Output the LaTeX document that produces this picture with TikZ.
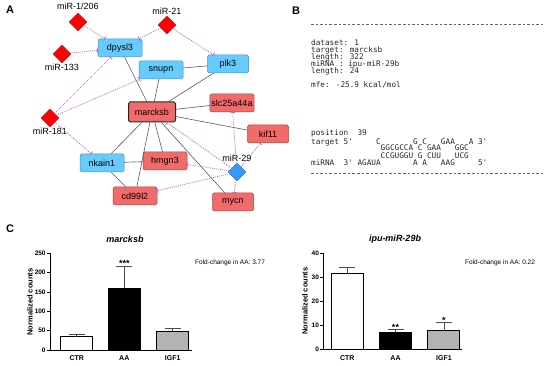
\documentclass[tikz,border=0pt]{standalone}
\usepackage{fontspec}
\setmainfont{Liberation Sans}
\newfontfamily\codefont{DejaVu Sans Mono}
\usetikzlibrary{shapes.geometric,arrows.meta}

\definecolor{geneblue}{HTML}{66CCFF}
\definecolor{genebluedark}{HTML}{4A8DB0}
\definecolor{genered}{HTML}{F26B6B}
\definecolor{generedline}{HTML}{A84444}
\definecolor{mirpurple}{HTML}{B563C9}
\definecolor{mirblue}{HTML}{3399FF}
\definecolor{bargray}{HTML}{B3B3B3}

% blank columns in the monospaced alignment
\newcommand{\colgap}[1]{\hspace*{#1\fontcharwd\font`x}}

\tikzset{
  panel/.style={font=\fontsize{11}{11}\selectfont\bfseries, inner sep=0pt},
  genebox/.style={draw=genebluedark, fill=geneblue, rounded corners=1.5pt,
    minimum width=44pt, minimum height=18pt, inner sep=1.5pt,
    line width=0.5pt, font=\fontsize{9}{9}\selectfont},
  tgtbox/.style={genebox, draw=generedline, fill=genered},
  hubbox/.style={tgtbox, draw=black!85, line width=1pt,
    minimum width=47pt, minimum height=20pt},
  mirred/.style={diamond, fill=red, draw=red!80!black, inner sep=0pt,
    minimum size=18pt, line width=0.3pt},
  mirbl/.style={mirred, fill=mirblue, draw=mirblue!70!black},
  mirlabel/.style={font=\fontsize{9}{9}\selectfont, inner sep=1pt},
  ppi/.style={draw=black!65, line width=0.6pt},
  inhib/.style={draw=mirpurple, line width=0.7pt, dash pattern=on 1pt off 1pt,
    -{Bar[width=5pt,line width=0.7pt]}},
  codeline/.style={anchor=base west, inner sep=0pt,
    font=\codefont\fontsize{7.7}{7.7}\selectfont, text=black!85},
  sepline/.style={draw=black!60, line width=0.5pt, dash pattern=on 2.5pt off 2.1pt},
  axisline/.style={draw=black, line width=0.8pt},
  barline/.style={draw=black, line width=0.9pt},
  errline/.style={draw=black!70, line width=0.8pt},
  ticklbl/.style={font=\fontsize{6.5}{6.5}\selectfont\bfseries, inner sep=1pt},
  catlbl/.style={font=\fontsize{7}{7}\selectfont\bfseries, inner sep=0pt},
  ylbl/.style={font=\fontsize{7.5}{7.5}\selectfont\bfseries, rotate=90, inner sep=0pt},
  ttl/.style={font=\fontsize{9}{9}\selectfont\bfseries\itshape, inner sep=0pt},
  foldlbl/.style={font=\fontsize{6.5}{6.5}\selectfont, anchor=west, inner sep=0pt},
  stars/.style={font=\fontsize{9}{9}\selectfont\bfseries, anchor=base, inner sep=0pt}
}

\begin{document}
\begin{tikzpicture}[x=1pt,y=-1pt]
  \useasboundingbox (0,0) rectangle (550,366);
  % panel letters
  \node[panel] (pa) at (10,10) {A};
  \node[panel] (pb) at (296,11) {B};
  \node[panel] (pc) at (10,229) {C};

  % network: genes
  \node[genebox] (dpysl3) at (120,48) {dpysl3};
  \node[genebox] (snupn) at (161,70) {snupn};
  \node[genebox, minimum width=41pt] (plk3) at (228,64) {plk3};
  \node[genebox] (nkain1) at (102,163) {nkain1};
  \node[hubbox] (marcksb) at (152,112) {marcksb};
  \node[tgtbox] (slc25a44a) at (232,103) {slc25a44a};
  \node[tgtbox, minimum width=41pt] (kif11) at (268,134) {kif11};
  \node[tgtbox] (hmgn3) at (165,161) {hmgn3};
  \node[tgtbox] (cd99l2) at (135,196) {cd99l2};
  \node[tgtbox, minimum width=41pt] (mycn) at (233,202) {mycn};
  % network: miRNAs
  \node[mirred, label={[mirlabel, label distance=2pt]above:miR-1/206}] (mir1) at (78,22) {};
  \node[mirred, label={[mirlabel]above:miR-21}] (mir21) at (167,25) {};
  \node[mirred, label={[mirlabel]below:miR-133}] (mir133) at (62,54) {};
  \node[mirred, label={[mirlabel]below:miR-181}] (mir181) at (50,118) {};
  \node[mirbl, label={[mirlabel]above:miR-29}] (mir29) at (237,172) {};

  % interactions
  \foreach \g in {dpysl3,snupn,plk3,nkain1,slc25a44a,kif11,hmgn3,cd99l2,mycn}
    \draw[ppi] (marcksb) -- (\g);
  \draw[ppi] (snupn) -- (plk3);
  \draw[ppi] (nkain1) -- (hmgn3);
  \draw[ppi] (nkain1) -- (cd99l2);
  \foreach \m/\g in {mir1/dpysl3, mir21/dpysl3, mir21/plk3, mir133/dpysl3,
      mir181/dpysl3, mir181/snupn, mir181/nkain1, mir29/marcksb, mir29/slc25a44a,
      mir29/kif11, mir29/hmgn3, mir29/cd99l2, mir29/mycn}
    \draw[inhib] (\m) -- (\g);

  % RNAhybrid output
  \draw[sepline] (311,24) -- (543,24);
  \node[codeline] (c1) at (311,45.2) {dataset: 1};
  \node[codeline] (c2) at (311,52.2) {target: marcksb};
  \node[codeline] (c3) at (311,59.2) {length: 322};
  \node[codeline] (c4) at (311,66.5) {miRNA : ipu-miR-29b};
  \node[codeline] (c5) at (311,73.5) {length: 24};
  \node[codeline] (c6) at (311,87.5) {mfe: -25.9 kcal/mol};
  \node[codeline] (c7) at (311,135.8) {position\colgap{2}39};
  \node[codeline] (c8) at (311,144.2)
    {target 5'\colgap{5}C\colgap{7}G\colgap{1}C\colgap{3}GAA\colgap{3}A\colgap{1}3'};
  \node[codeline] (c9) at (311,150.8)
    {\colgap{15}GGCGCCA\colgap{1}C\colgap{1}GAA\colgap{3}GGC};
  \node[codeline] (c10) at (311,158.2)
    {\colgap{15}CCGUGGU\colgap{1}G\colgap{1}CUU\colgap{3}UCG};
  \node[codeline] (c11) at (311,165.8)
    {miRNA\colgap{2}3'\colgap{1}AGAUA\colgap{7}A\colgap{1}A\colgap{3}AAG\colgap{5}5'};
  \draw[sepline] (311,173.3) -- (543,173.3);

  % marcksb counts
  \node[ttl] (ttlm) at (125,239) {marcksb};
  \node[ylbl] (ylm) at (30,302) {Normalized counts};
  \node[foldlbl] (fcm) at (195,263) {Fold-change in AA: 3.77};
  \draw[axisline] (50,253.3) -- (50,350) -- (192,350);
  \foreach \v in {0,50,...,250}
    \draw[axisline] (50,{350-0.3867*\v}) -- ++(-3,0) node[ticklbl, left] (lt\v) {\v};
  \foreach \xc/\val/\err/\col/\lab in {76.7/34/40/white/CTR, 124.3/159.5/215/black/AA, 172.7/49/56/bargray/IGF1} {
    \draw[barline, fill=\col] (\xc-16,350) rectangle (\xc+16,{350-0.3867*\val});
    \draw[errline] (\xc,{350-0.3867*\val}) -- (\xc,{350-0.3867*\err})
      (\xc-8,{350-0.3867*\err}) -- (\xc+8,{350-0.3867*\err});
    \node[catlbl] (lc\lab) at (\xc,358) {\lab};
  }
  \node[stars] (sm) at (124.3,267) {***};

  % ipu-miR-29b counts
  \node[ttl] (ttlr) at (395,239) {ipu-miR-29b};
  \node[ylbl] (ylr) at (305,301) {Normalized counts};
  \node[foldlbl] (fcr) at (465,263) {Fold-change in AA: 0.22};
  \draw[axisline] (323.3,253.4) -- (323.3,349) -- (461.7,349);
  \foreach \v in {0,10,...,40}
    \draw[axisline] (323.3,{349-2.39*\v}) -- ++(-3,0) node[ticklbl, left] (rt\v) {\v};
  \foreach \xc/\val/\err/\col/\lab in {347.2/31.6/34/white/CTR, 395.5/7/8.2/black/AA, 443.9/7.7/11/bargray/IGF1} {
    \draw[barline, fill=\col] (\xc-16,349) rectangle (\xc+16,{349-2.39*\val});
    \draw[errline] (\xc,{349-2.39*\val}) -- (\xc,{349-2.39*\err})
      (\xc-8,{349-2.39*\err}) -- (\xc+8,{349-2.39*\err});
    \node[catlbl] (rc\lab) at (\xc,358) {\lab};
  }
  \node[stars] (sr1) at (395.5,330.5) {**};
  \node[stars] (sr2) at (443.9,323.5) {*};
\end{tikzpicture}
\end{document}
